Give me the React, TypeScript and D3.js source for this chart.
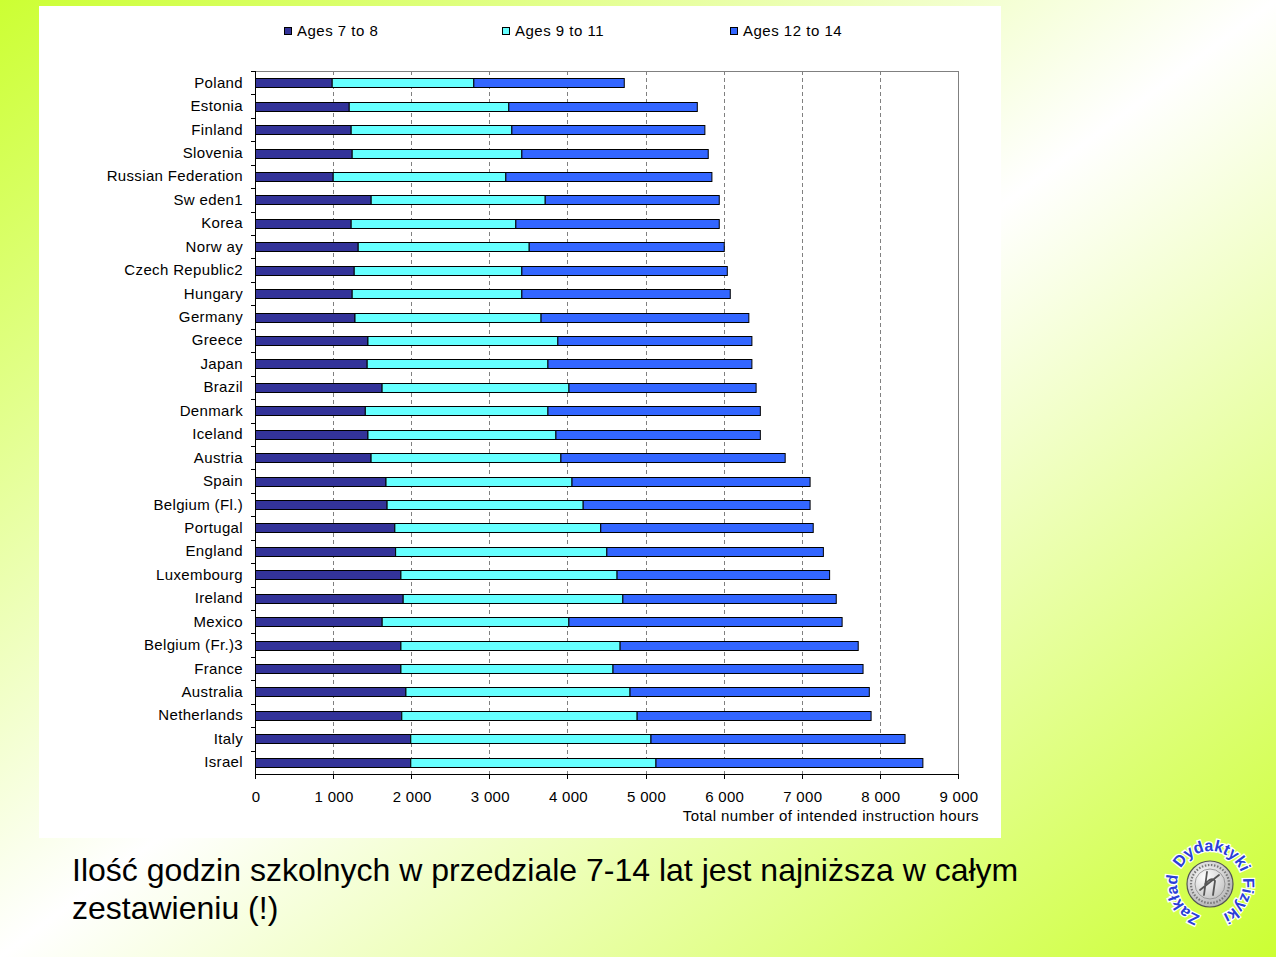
import React from "react";
import * as d3 from "d3";

const countries = [
  "Poland", "Estonia", "Finland", "Slovenia", "Russian Federation", "Sw eden1", "Korea",
  "Norw ay", "Czech Republic2", "Hungary", "Germany", "Greece", "Japan", "Brazil", "Denmark",
  "Iceland", "Austria", "Spain", "Belgium (Fl.)", "Portugal", "England", "Luxembourg",
  "Ireland", "Mexico", "Belgium (Fr.)3", "France", "Australia", "Netherlands", "Italy", "Israel",
];
const ages7to8 = [
  982, 1200, 1225, 1238, 995, 1481, 1225, 1315, 1264, 1238, 1274, 1440, 1430, 1621, 1406,
  1440, 1480, 1671, 1685, 1784, 1794, 1862, 1891, 1622, 1862, 1862, 1926, 1873, 1988, 1988,
];
const ages9to11 = [
  1813, 2043, 2057, 2172, 2210, 2228, 2108, 2189, 2146, 2172, 2382, 2431, 2314, 2392, 2338,
  2406, 2430, 2381, 2510, 2636, 2704, 2767, 2812, 2390, 2806, 2715, 2869, 3013, 3075, 3139,
];
const ages12to14 = [
  1926, 2413, 2471, 2386, 2638, 2228, 2604, 2497, 2630, 2668, 2660, 2484, 2611, 2396, 2719,
  2617, 2871, 3048, 2905, 2720, 2772, 2721, 2732, 3498, 3048, 3201, 3063, 2995, 3253, 3417,
];
const seriesNames = ["Ages 7 to 8", "Ages 9 to 11", "Ages 12 to 14"];
const seriesColors = ["#333399", "#66FFFF", "#3366FF"];
const xTicks = [0, 1000, 2000, 3000, 4000, 5000, 6000, 7000, 8000, 9000];
const xAxisTitle = "Total number of intended instruction hours";
const captionLines = [
  "Ilość godzin szkolnych w przedziale 7-14 lat jest najniższa w całym",
  "zestawieniu (!)",
];
const logoWords = ["Zakład", "Dydaktyki", "Fizyki"];

const FONT = "'Liberation Sans', Arial, sans-serif";

export default function App() {
  const W = 1276;
  const H = 957;
  const left = 255;
  const right = 958;
  const top = 71;
  const bottom = 774;

  const x = d3.scaleLinear().domain([0, 9000]).range([left, right]);
  const y = d3
    .scaleBand<string>()
    .domain(countries)
    .range([top, bottom])
    .paddingInner(0.615)
    .paddingOuter(0.3075);

  const table = countries.map((c, i) => ({
    country: c,
    a: ages7to8[i],
    b: ages9to11[i],
    c: ages12to14[i],
  }));
  const stacked = d3.stack<any>().keys(["a", "b", "c"])(table);

  const fmt = d3.formatLocale({
    decimal: ",",
    thousands: " ",
    grouping: [3],
    currency: ["", ""],
  }).format(",");

  const step = y.step();
  const bandEdges = countries.map((_, i) => top + i * step);

  const legendX = [284, 502, 730];

  const lcx = 1210;
  const lcy = 884;
  const lr = 33;
  const logoOffsets = ["17%", "51%", "83%"];

  return (
    <svg
      width={W}
      height={H}
      style={{ position: "absolute", left: 0, top: 0, display: "block" }}
      fontFamily={FONT}
    >
      <defs>
        <linearGradient id="bg" x1="0" y1="0" x2="1" y2="1">
          <stop offset="0" stopColor="#CCFF33" />
          <stop offset="0.5" stopColor="#FFFFFF" />
          <stop offset="1" stopColor="#CCFF33" />
        </linearGradient>
        <radialGradient id="emb" cx="0.4" cy="0.35" r="0.7">
          <stop offset="0" stopColor="#ffffff" />
          <stop offset="1" stopColor="#b0b0b0" />
        </radialGradient>
        <path
          id="logoPath"
          d={`M ${lcx} ${lcy + lr} A ${lr} ${lr} 0 1 1 ${lcx} ${lcy - lr} A ${lr} ${lr} 0 1 1 ${lcx} ${lcy + lr}`}
        />
      </defs>
      <rect x={0} y={0} width={W} height={H} fill="url(#bg)" />
      <rect x={39} y={6} width={962} height={832} fill="#FFFFFF" />

      {/* legend */}
      {seriesNames.map((n, i) => (
        <g key={n}>
          <rect
            x={legendX[i] + 0.5}
            y={27.5}
            width={7}
            height={7}
            fill={seriesColors[i]}
            stroke="#000"
            strokeWidth={1}
          />
          <text x={legendX[i] + 13} y={36} fontSize={15} letterSpacing={0.5} fill="#000">
            {n}
          </text>
        </g>
      ))}

      {/* gridlines */}
      {xTicks
        .filter((t) => t > 0 && t < 9000)
        .map((t) => (
          <line
            key={t}
            x1={Math.round(x(t)) + 0.5}
            x2={Math.round(x(t)) + 0.5}
            y1={top}
            y2={bottom}
            stroke="#808080"
            strokeWidth={1}
            strokeDasharray="4,3"
          />
        ))}
      {/* plot border top/right */}
      <line x1={left} x2={right + 0.5} y1={top + 0.5} y2={top + 0.5} stroke="#808080" />
      <line x1={right + 0.5} x2={right + 0.5} y1={top} y2={bottom} stroke="#808080" />

      {/* bars */}
      {stacked.map((s, si) => (
        <g key={si}>
          {s.map((d, i) => (
            <rect
              key={i}
              x={x(d[0]) + 0.5}
              y={Math.round(y(countries[i]) as number) + 0.5}
              width={x(d[1]) - x(d[0])}
              height={Math.round(y.bandwidth())}
              fill={seriesColors[si]}
              stroke="#000"
              strokeWidth={1}
            />
          ))}
        </g>
      ))}

      {/* y axis */}
      <line x1={left + 0.5} x2={left + 0.5} y1={top} y2={bottom + 0.5} stroke="#000" />
      {bandEdges.map((e, i) => (
        <line
          key={i}
          x1={left - 4}
          x2={left}
          y1={Math.round(e) + 0.5}
          y2={Math.round(e) + 0.5}
          stroke="#000"
        />
      ))}
      {countries.map((c) => (
        <text
          key={c}
          x={243}
          y={(y(c) as number) + y.bandwidth() / 2 + 5}
          textAnchor="end"
          fontSize={15}
          letterSpacing={0.35}
          fill="#000"
        >
          {c}
        </text>
      ))}

      {/* x axis */}
      <line x1={left} x2={right + 1} y1={bottom + 0.5} y2={bottom + 0.5} stroke="#000" />
      {xTicks.map((t) => (
        <g key={t}>
          <line
            x1={Math.round(x(t)) + 0.5}
            x2={Math.round(x(t)) + 0.5}
            y1={bottom}
            y2={bottom + 5}
            stroke="#000"
          />
          <text x={x(t) + 1} y={802} textAnchor="middle" fontSize={15} letterSpacing={0.3} fill="#000">
            {fmt(t)}
          </text>
        </g>
      ))}
      <text x={979} y={821} textAnchor="end" fontSize={15} letterSpacing={0.4} fill="#000">
        {xAxisTitle}
      </text>

      {/* caption */}
      {captionLines.map((l, i) => (
        <text key={i} x={72} y={881 + i * 38} fontSize={32} fill="#000">
          {l}
        </text>
      ))}

      {/* logo */}
      <g>
        <circle cx={lcx} cy={lcy} r={23} fill="url(#emb)" stroke="#555" strokeWidth={1.2} />
        <circle cx={lcx} cy={lcy} r={19} fill="none" stroke="#777" strokeWidth={2.2} strokeDasharray="1.5,1.6" />
        <circle cx={lcx} cy={lcy} r={15} fill="none" stroke="#888" strokeWidth={0.8} />
        <path
          d={`M ${lcx - 3} ${lcy - 12} L ${lcx - 6} ${lcy + 11} M ${lcx - 5} ${lcy} Q ${lcx + 2} ${lcy - 8} ${lcx + 5} ${lcy - 3} L ${lcx + 3} ${lcy + 11} M ${lcx - 10} ${lcy + 6} L ${lcx + 9} ${lcy - 9}`}
          fill="none"
          stroke="#555"
          strokeWidth={1.8}
          strokeLinecap="round"
        />
        {logoWords.map((w, i) => (
          <text
            key={w}
            fontSize={16}
            fontWeight="bold"
            fill="#2B3FD6"
            stroke="#ffffff"
            strokeWidth={2.5}
            paintOrder="stroke"
            fontFamily={FONT}
          >
            <textPath href="#logoPath" startOffset={logoOffsets[i]} textAnchor="middle">
              {w}
            </textPath>
          </text>
        ))}
      </g>
    </svg>
  );
}
